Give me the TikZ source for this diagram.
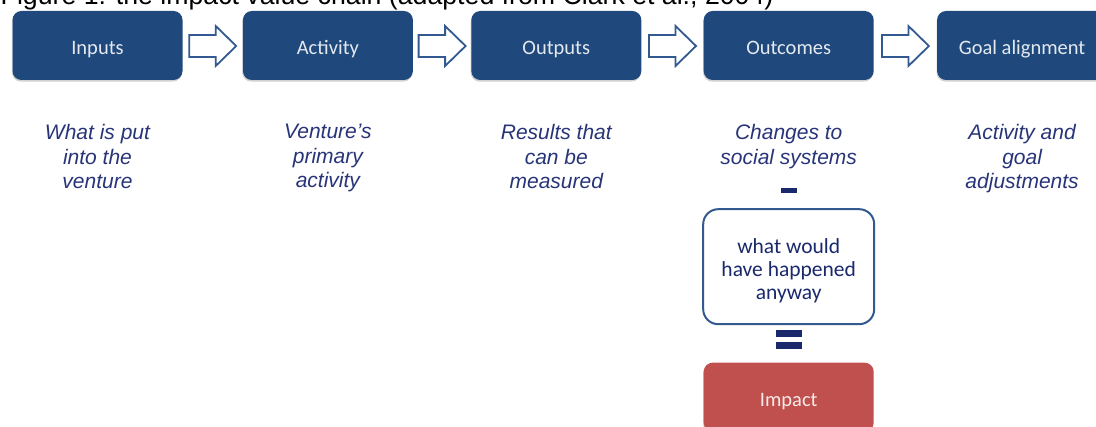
\documentclass[tikz,border=0pt]{standalone}
\usepackage{fontspec}
\setmainfont{Liberation Sans}
\newfontfamily\boxfont{Carlito}
\usepackage{xcolor}
\usetikzlibrary{arrows.meta,positioning,calc,shadows}
\definecolor{stageblue}{RGB}{31,73,125}
\definecolor{lineblue}{RGB}{50,90,145}
\definecolor{noteblue}{RGB}{40,52,120}
\definecolor{barnavy}{RGB}{26,40,108}
\definecolor{impactred}{RGB}{192,80,77}

\begin{document}
\begin{tikzpicture}[
  x=1pt, y=-1pt,
  stage/.style={rectangle, rounded corners=9pt, fill=stageblue,
    minimum width=170pt, minimum height=69pt, inner sep=0pt,
    text height=19pt, text depth=0pt,
    text=white!88!stageblue, font=\boxfont\fontsize{20.5}{23}\selectfont,
    drop shadow={shadow xshift=-0.6pt, shadow yshift=-1.6pt, opacity=0.3, fill=black!60}},
  impact/.style={stage, fill=impactred, text=white!88!impactred},
  hollow/.style={draw=lineblue, line width=1.8pt, fill=white},
  note/.style={align=center, inner sep=0pt, text=noteblue,
    font=\itshape\fontsize{21}{24.5}\selectfont},
  cfbox/.style={rectangle, rounded corners=15pt, draw=lineblue, line width=2pt,
    fill=white, minimum width=171pt, minimum height=115pt, align=center,
    text=barnavy, font=\boxfont\fontsize{21.5}{23.3}\selectfont},
  bar/.style={rectangle, fill=barnavy, inner sep=0pt}
]
\useasboundingbox (0,0) rectangle (1096,427);
\clip (0,0) rectangle (1096,427);

% caption, cut at the top edge
\node[anchor=base west, inner sep=0pt, font=\fontsize{26.7}{30}\selectfont] (caption)
  at (0.5,5) {Figure 1: the impact value chain (adapted from Clark et al., 2004)};

% value chain
\node[stage] (in) at (97.5,45.5) {Inputs};
\node[stage, right=60pt of in] (act) {Activity};
\node[stage, right=58pt of act] (out) {Outputs};
\node[stage, right=62pt of out] (outc) {Outcomes};
\node[stage, right=63pt of outc] (goal) {Goal alignment};

% hollow block arrows between the stages
\foreach \a/\b in {in/act, act/out, out/outc, outc/goal}{
  \coordinate (mid-\a) at ($(\a.east)!0.5!(\b.west)+(0,0.5)$);
  \draw[hollow] ($(mid-\a)+(-23.5,-11)$) -- ++(26.5,0) -- ++(0,-9)
    -- ++(20.5,20) -- ++(-20.5,20) -- ++(0,-9) -- ++(-26.5,0) -- cycle;
}

% descriptions
\node[note, below=44pt of in] (inlbl) {What is put\\into the\\venture};
\node[note, below=44pt of act] (actlbl) {Venture's\\primary\\activity};
\node[note, below=44pt of out] (outlbl) {Results that\\can be\\measured};
\node[note, below=44pt of outc] (outclbl) {Changes to\\social systems};
\node[note, below=44pt of goal] (goallbl) {Activity and\\goal\\adjustments};

% outcomes - counterfactual = impact
\node[cfbox, below=128pt of outc] (cf) {\rule{0pt}{23pt}what would\\have happened\\anyway};
\node[bar, minimum width=16pt, minimum height=5pt, above=15pt of cf] (minus) {};
\node[bar, minimum width=26pt, minimum height=7pt, below=5pt of cf] (eqtop) {};
\node[bar, minimum width=26pt, minimum height=7pt, below=4.5pt of eqtop] (eqbot) {};
\node[impact, below=13pt of eqbot] (imp) {Impact};
\end{tikzpicture}
\end{document}
